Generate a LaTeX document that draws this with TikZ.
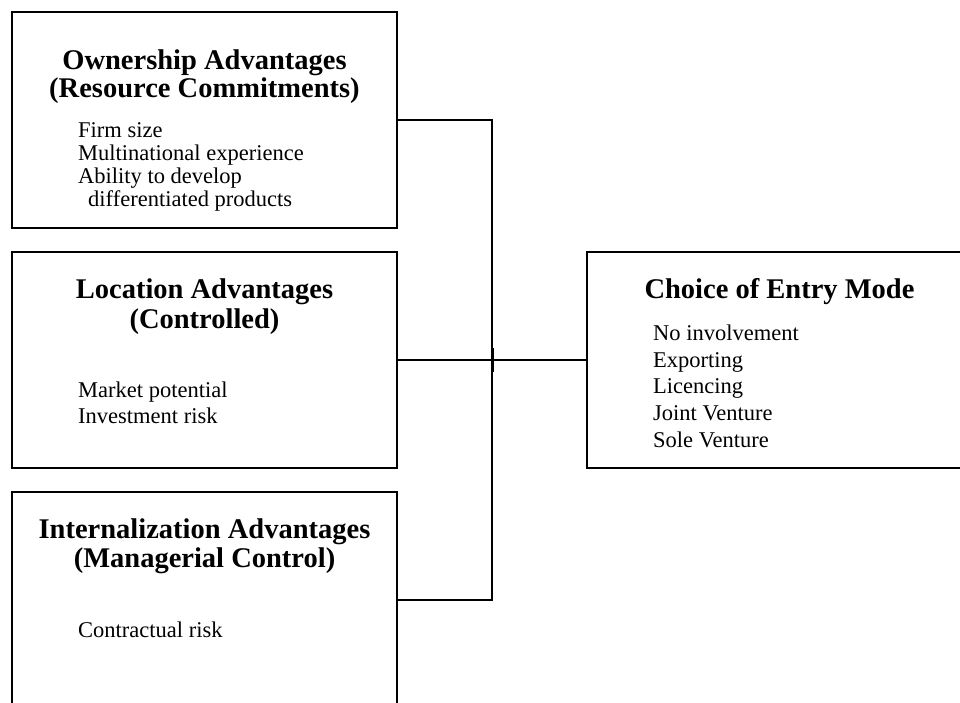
\documentclass[tikz,border=0pt]{standalone}
\usepackage{fontspec}
\setmainfont{Liberation Serif}
\begin{document}
\begin{tikzpicture}[x=1pt,y=-1pt,
  box/.style={draw, line width=1.8pt, minimum width=385pt, minimum height=216pt, inner sep=0pt, outer sep=0pt, anchor=north west},
  head/.style={font=\fontsize{28.5}{30}\selectfont\bfseries, inner sep=0pt, anchor=base},
  item/.style={font=\fontsize{22.5}{23}\selectfont, inner sep=0pt, anchor=base west},
  conn/.style={line width=1.8pt, line join=miter}]
\useasboundingbox (0,0) rectangle (960,702);
\clip (0,0) rectangle (960,702);
% boxes
\node[box] (own) at (12,12) {};
\node[box] (loc) at (12,252) {};
\node[box] (int) at (12,492) {};
\node[box] (choice) at (587,252) {};
% headings
\node[head] (ownh1) at (204.5,69) {Ownership Advantages};
\node[head] (ownh2) at (204.5,97) {(Resource Commitments)};
\node[head] (loch1) at (204.5,298) {Location Advantages};
\node[head] (loch2) at (204.5,328) {(Controlled)};
\node[head] (inth1) at (204.5,538) {Internalization Advantages};
\node[head] (inth2) at (204.5,567) {(Managerial Control)};
\node[head] (choiceh) at (779.5,298) {Choice of Entry Mode};
% items
\node[item] (o1) at (78,137) {Firm size};
\node[item] (o2) at (78,160) {Multinational experience};
\node[item] (o3) at (78,183) {Ability to develop};
\node[item] (o4) at (88,206) {differentiated products};
\node[item] (l1) at (78,397) {Market potential};
\node[item] (l2) at (78,423) {Investment risk};
\node[item] (i1) at (78,637) {Contractual risk};
\node[item] (c1) at (653,340) {No involvement};
\node[item] (c2) at (653,367) {Exporting};
\node[item] (c3) at (653,393) {Licencing};
\node[item] (c4) at (653,420) {Joint Venture};
\node[item] (c5) at (653,447) {Sole Venture};
% connectors
\coordinate (jt) at (492,120);
\coordinate (jb) at (492,600);
\coordinate (tk1) at (492,348);
\coordinate (tk2) at (492,372);
\draw[conn] (own.east) -- (jt) -- (jb) -- (int.east);
\draw[conn] (loc.east) -- (choice.west);
\draw[line width=3pt] (tk1) -- (tk2);
\end{tikzpicture}
\end{document}
